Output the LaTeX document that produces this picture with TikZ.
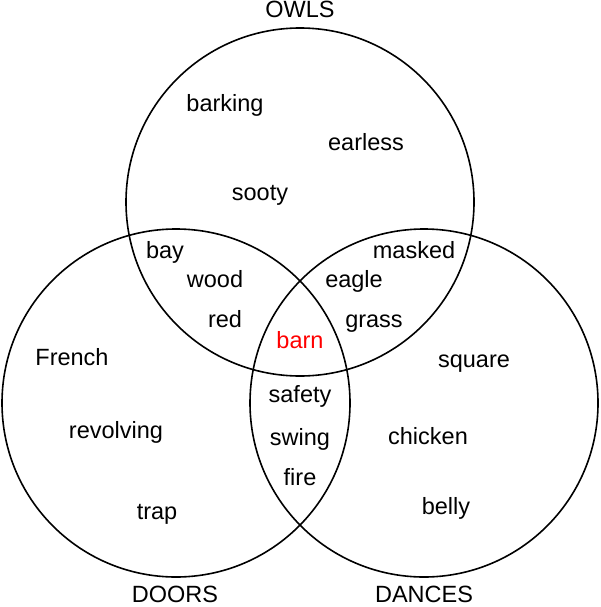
\documentclass[tikz,border=0pt]{standalone}
\usepackage{fontspec}
\setmainfont{Liberation Sans}
\begin{document}
\begin{tikzpicture}[x=1pt,y=-1pt,
  ring/.style={draw=black,line width=1.6pt},
  word/.style={font=\fontsize{23.5}{28}\selectfont,inner sep=0pt,anchor=base},
  hot/.style={word,text=red}]
\useasboundingbox (0,0) rectangle (600,607);
\node[circle,ring,minimum size=348pt,inner sep=0pt] (owls) at (300,202) {};
\node[circle,ring,minimum size=348pt,inner sep=0pt] (doors) at (176,403) {};
\node[circle,ring,minimum size=348pt,inner sep=0pt] (dances) at (424,403) {};
\node[word] (tOwls) at (300,18) {OWLS};
\node[word] (tDoors) at (175,602) {DOORS};
\node[word] (tDances) at (424,602) {DANCES};
\node[word] (barking) at (225,111) {barking};
\node[word] (earless) at (366,150) {earless};
\node[word] (sooty) at (260,200) {sooty};
\node[word] (bay) at (165,258) {bay};
\node[word] (wood) at (215,287) {wood};
\node[word] (red) at (225,327) {red};
\node[word] (masked) at (414,258) {masked};
\node[word] (eagle) at (354,287) {eagle};
\node[word] (grass) at (374,327) {grass};
\node[hot] (barn) at (300,348) {barn};
\node[word] (french) at (72,365) {French};
\node[word] (revolving) at (116,438) {revolving};
\node[word] (trap) at (157,519) {trap};
\node[word] (safety) at (300,402) {safety};
\node[word] (swing) at (300,445) {swing};
\node[word] (fire) at (300,485) {fire};
\node[word] (square) at (474,367) {square};
\node[word] (chicken) at (428,444) {chicken};
\node[word] (belly) at (446,514) {belly};
\end{tikzpicture}
\end{document}
